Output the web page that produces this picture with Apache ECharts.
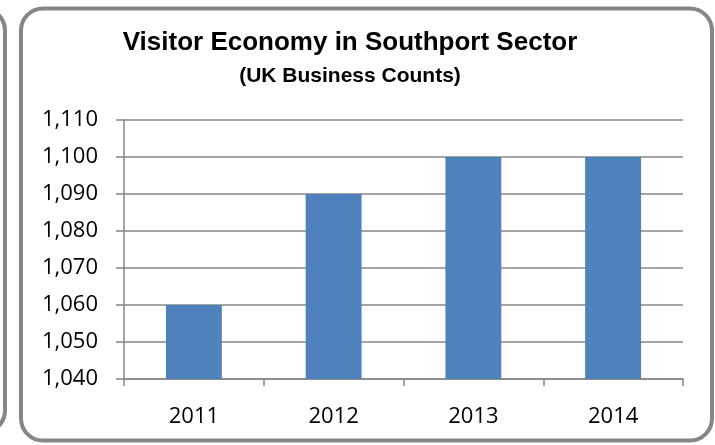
<!DOCTYPE html>
<html>
<head>
<meta charset="utf-8">
<script src="https://cdn.jsdelivr.net/npm/echarts@6/dist/echarts.min.js"></script>
<style>
  html, body { margin: 0; padding: 0; background: #ffffff; }
  #chart { width: 715px; height: 445px; }
</style>
</head>
<body>
<div id="chart"></div>
<script>
// Visitor economy business counts, Southport sector
const years = ['2011', '2012', '2013', '2014'];
const businessCounts = [1060, 1090, 1100, 1100];
const yTicks = [1040, 1050, 1060, 1070, 1080, 1090, 1100, 1110];

const chartTitle = 'Visitor Economy in Southport Sector';
const chartSubtitle = '(UK Business Counts)';

const axisGrey = '#878787';
const frameGrey = '#868686';
const labelFont = '"Open Sans", "Noto Sans", sans-serif';

const chart = echarts.init(document.getElementById('chart'), null, { renderer: 'canvas' });

chart.setOption({
  backgroundColor: '#ffffff',
  animation: false,
  title: {
    text: chartTitle,
    subtext: chartSubtitle,
    left: 350,
    top: 30,
    textAlign: 'center',
    padding: 0,
    itemGap: 10,
    textStyle: {
      fontFamily: '"Liberation Sans", Arial, sans-serif',
      fontWeight: 'bold',
      fontSize: 26,
      color: '#000000'
    },
    subtextStyle: {
      fontFamily: '"Liberation Sans", Arial, sans-serif',
      fontWeight: 'bold',
      fontSize: 21,
      color: '#000000'
    }
  },
  graphic: [
    // panel frame around the chart
    {
      type: 'rect',
      shape: { x: 21, y: 8.5, width: 691, height: 432, r: 22 },
      style: { fill: 'none', stroke: frameGrey, lineWidth: 4 },
      z: 100
    },
    // edge of the neighbouring panel on the left
    {
      type: 'rect',
      shape: { x: -700, y: 8.5, width: 705, height: 424, r: 22 },
      style: { fill: 'none', stroke: frameGrey, lineWidth: 4 },
      z: 100
    }
  ],
  grid: {
    left: 124,
    right: 32,
    top: 120,
    bottom: 66,
    containLabel: false
  },
  xAxis: {
    type: 'category',
    data: years,
    boundaryGap: true,
    axisLine: { show: true, lineStyle: { color: axisGrey, width: 1.5 } },
    axisTick: { show: true, length: 7, alignWithLabel: false, lineStyle: { color: axisGrey, width: 1.5 } },
    axisLabel: {
      margin: 27,
      fontFamily: labelFont,
      fontSize: 22,
      color: '#000000'
    },
    splitLine: { show: false }
  },
  yAxis: {
    type: 'value',
    min: yTicks[0],
    max: yTicks[yTicks.length - 1],
    interval: 10,
    axisLine: { show: true, lineStyle: { color: axisGrey, width: 1.5 } },
    axisTick: { show: true, length: 8, lineStyle: { color: axisGrey, width: 1.5 } },
    axisLabel: {
      margin: 26,
      fontFamily: labelFont,
      fontSize: 22,
      color: '#000000',
      formatter: v => v.toLocaleString('en-GB')
    },
    splitLine: { show: true, lineStyle: { color: axisGrey, width: 1.5 } }
  },
  series: [{
    type: 'bar',
    data: businessCounts,
    barWidth: '40%',
    itemStyle: { color: '#4f81bd' }
  }]
});
</script>
</body>
</html>
